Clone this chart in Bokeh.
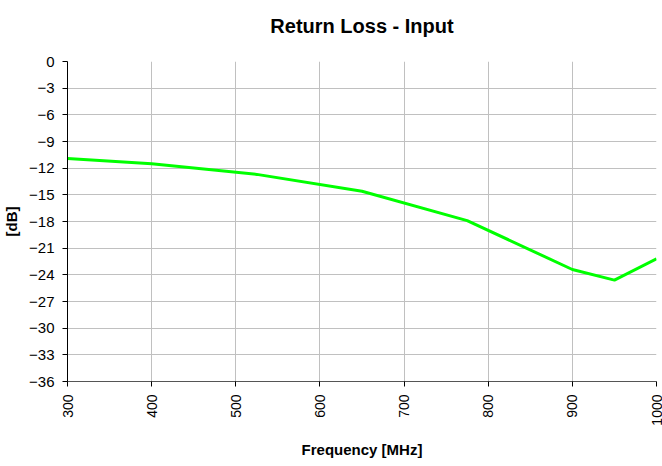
import math
from bokeh.plotting import figure
from bokeh.models import FixedTicker, Range1d
from bokeh.embed import file_html
from bokeh.resources import INLINE

freq_mhz = [300, 400, 525, 650, 775, 900, 950, 1000]
return_loss_db = [-10.9, -11.5, -12.7, -14.6, -17.9, -23.4, -24.6, -22.2]
x_ticks = [300, 400, 500, 600, 700, 800, 900, 1000]
y_ticks = [0, -3, -6, -9, -12, -15, -18, -21, -24, -27, -30, -33, -36]
title_text = "Return Loss - Input"

FONT = "Liberation Sans"

p = figure(
    width=662, height=466,
    frame_width=589, frame_height=320,
    min_border_left=67, min_border_right=6, min_border_top=61, min_border_bottom=85,
    output_backend="svg", toolbar_location=None,
    x_range=Range1d(300, 1000), y_range=Range1d(-36, 0),
    title=title_text,
)
p.title.align = "center"
p.title.vertical_align = "top"
p.title.text_font = FONT
p.title.text_font_size = "20px"
p.title.text_font_style = "bold"
p.title.text_color = "black"
p.title.standoff = 26
p.title.padding = (0, 0, 0, 10)

p.outline_line_color = None
p.background_fill_color = "white"
p.border_fill_color = "white"

p.line(freq_mhz, return_loss_db, line_color="#00ff00", line_width=3)

p.xaxis.ticker = FixedTicker(ticks=x_ticks)
p.yaxis.ticker = FixedTicker(ticks=y_ticks)
p.xaxis.minor_tick_line_color = None
p.yaxis.minor_tick_line_color = None
p.xaxis.major_label_orientation = math.pi / 2
for ax in (p.xaxis, p.yaxis):
    ax.axis_line_color = "black"
    ax.axis_line_width = 1
    ax.major_tick_line_color = "black"
    ax.major_tick_in = 0
    ax.major_tick_out = 5
    ax.major_label_standoff = 8
    ax.major_label_text_font = FONT
    ax.major_label_text_font_size = "15px"
    ax.major_label_text_color = "black"
    ax.axis_label_text_font = FONT
    ax.axis_label_text_font_size = "15px"
    ax.axis_label_text_font_style = "bold"
    ax.axis_label_text_color = "black"
p.xaxis.major_label_text_font_size = "14px"
p.xaxis.axis_line_color = "#555555"
p.xaxis.axis_label = "Frequency [MHz]"
p.yaxis.axis_label = "[dB]"
p.xaxis.axis_label_standoff = 12
p.yaxis.axis_label_standoff = 6

p.xgrid.grid_line_color = "#c0c0c0"
p.ygrid.grid_line_color = "#c0c0c0"
p.xgrid.grid_line_width = 1
p.ygrid.grid_line_width = 1

open("out.html", "w").write(file_html(p, INLINE))
